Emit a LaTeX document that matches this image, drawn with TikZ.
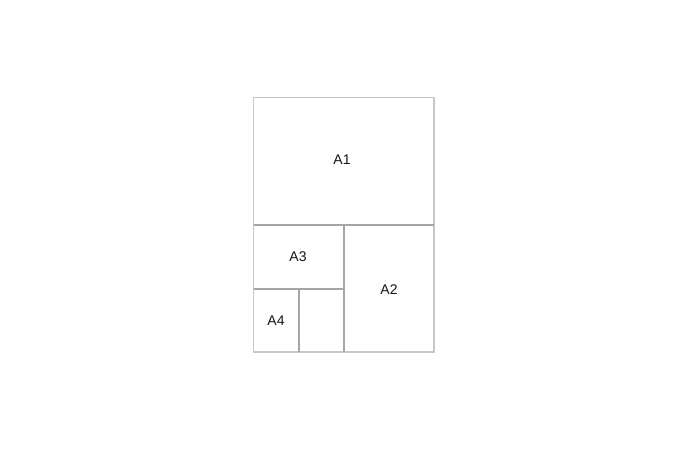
\documentclass[tikz,border=0pt]{standalone}
\usepackage{fontspec}
\setmainfont{Liberation Sans}
\begin{document}
\begin{tikzpicture}[x=1pt,y=-1pt,
  outer/.style={draw=black!22,line width=1.1pt},
  inner/.style={draw=black!35,line width=1.1pt},
  lbl/.style={font=\fontsize{14}{14}\selectfont,text=black!92,inner sep=0pt}]
\useasboundingbox (0,0) rectangle (688,458);
\coordinate (tl) at (253.5,97.5);
\coordinate (br) at (434,352);
\draw[outer] (tl) rectangle (br);
\draw[inner] (253.5,225) -- (434,225);
\draw[inner] (344,225) -- (344,352);
\draw[inner] (253.5,289) -- (344,289);
\draw[inner] (299,289) -- (299,352);
\node[lbl] (a1) at (342,160) {A1};
\node[lbl] (a3) at (298,257) {A3};
\node[lbl] (a2) at (389,290) {A2};
\node[lbl] (a4) at (276,321) {A4};
\end{tikzpicture}
\end{document}
